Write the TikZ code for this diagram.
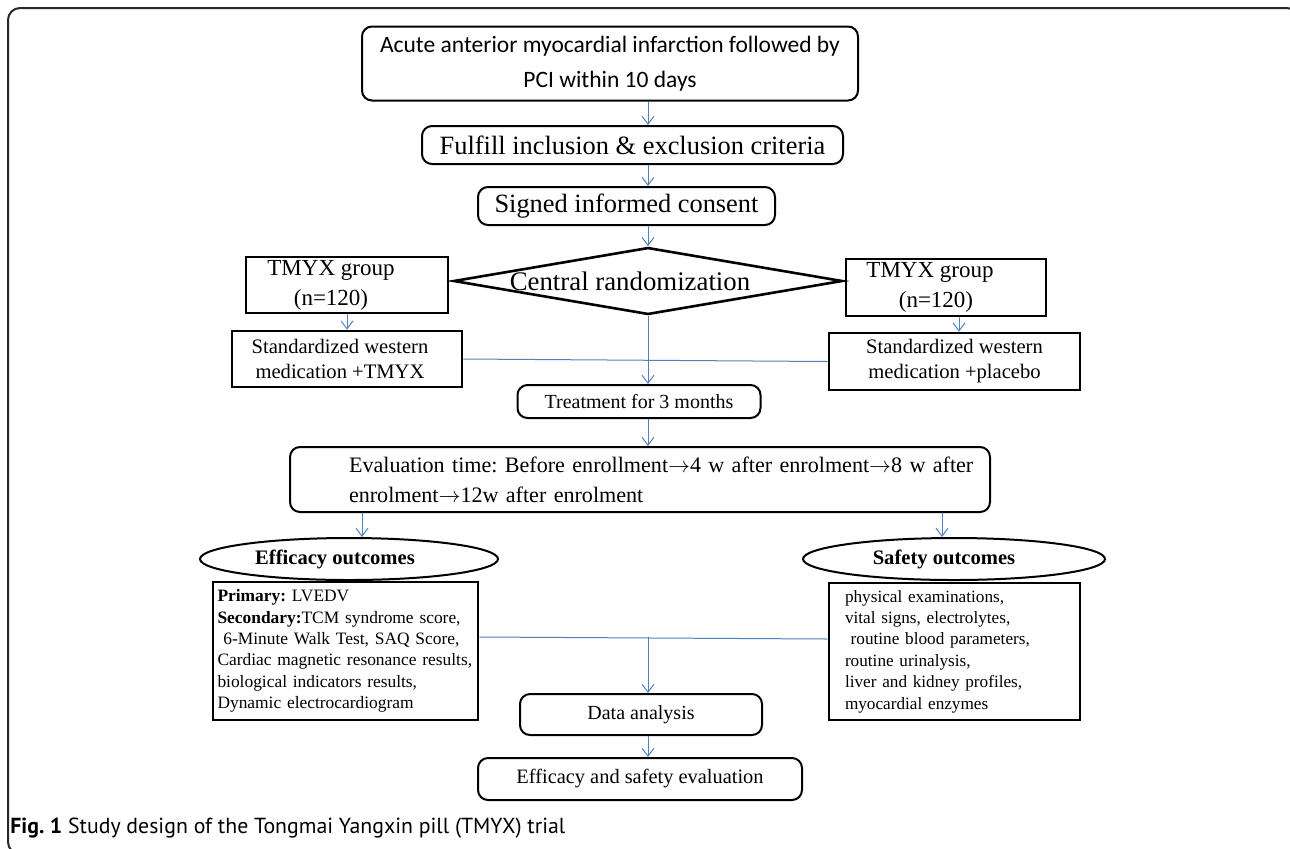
\documentclass[tikz,border=0pt]{standalone}
\usepackage{fontspec}
\setmainfont{Liberation Serif}
\newfontfamily\calfont{Carlito}
\newfontfamily\capfont{PT Sans}
\usetikzlibrary{shapes.geometric,arrows.meta,calc}
\frenchspacing

\definecolor{flowblue}{RGB}{79,129,189}
\definecolor{framegray}{RGB}{40,40,40}

\tikzset{
  roundbox/.style={draw, rounded corners=5pt, line width=1pt, inner sep=0pt},
  thickbox/.style={draw, line width=1.3pt, inner sep=0pt},
  flow/.style={draw=flowblue, line width=0.5pt},
  flowarrow/.style={flow, -{Straight Barb[length=4pt,width=6pt]}},
}

\begin{document}
\begin{tikzpicture}[x=0.5pt,y=-0.5pt]
    % Frame
    \useasboundingbox (0,0) rectangle (1290,848);
    \draw[framegray, line width=1pt, rounded corners=6pt] (8,8) rectangle (1299,854);
    % Screening
    \node[roundbox, minimum width=248pt, minimum height=37pt, align=center, font=\calfont\fontsize{11.75}{17.5}\selectfont] (acute) at (610,63.5) {Acute anterior myocardial infarction followed by\\PCI within 10 days};
    \node[roundbox, minimum width=210.5pt, minimum height=19pt, font=\fontsize{13.2}{15}\selectfont] (fulfill) at (632.5,145) {Fulfill inclusion \& exclusion criteria};
    \node[roundbox, minimum width=148.5pt, minimum height=19pt, font=\fontsize{13.2}{15}\selectfont] (signed) at (626.5,206) {Signed informed consent};
    \node[draw, diamond, aspect=5.8, line width=1.3pt, inner sep=0pt, minimum width=194.5pt, minimum height=33.5pt, font=\fontsize{13.4}{15}\selectfont] (rand) at (648,281) {\hspace*{-18pt}Central randomization};
    % Groups
    \node[thickbox, minimum width=101pt, minimum height=28pt, align=center, font=\fontsize{11.5}{15}\selectfont] (grpA) at (347,285) {\hspace*{-16pt}TMYX group\\\hspace*{-16pt}(n=120)};
    \node[thickbox, minimum width=100pt, minimum height=28.5pt, align=center, font=\fontsize{11.5}{15}\selectfont] (grpB) at (946,287.5) {\hspace*{-16pt}TMYX group\\\hspace*{-10pt}(n=120)};
    \node[thickbox, minimum width=115pt, minimum height=28pt, align=center, font=\fontsize{10.3}{12.5}\selectfont] (medA) at (347,359) {\hspace*{-7pt}Standardized western\\\hspace*{-7pt}medication +TMYX};
    \node[thickbox, minimum width=125.5pt, minimum height=28.5pt, align=center, font=\fontsize{10.3}{12.5}\selectfont] (medB) at (954.5,361.5) {Standardized western\\medication +placebo};
    \node[roundbox, minimum width=121.5pt, minimum height=16.5pt, font=\fontsize{10}{12}\selectfont] (treat) at (639,401.5) {Treatment for 3 months};
    % Follow-up
    \node[roundbox, minimum width=350pt, minimum height=32.5pt, text width=350pt, inner xsep=0pt, align=left, font=\fontsize{11.05}{15}\selectfont] (eval) at (640,479.5) {\mbox{\hspace*{29.5pt}Evaluation time: Before enrollment$\rightarrow$4 w after enrolment$\rightarrow$8 w after}\\\mbox{\hspace*{29.5pt}enrolment$\rightarrow$12w after enrolment}};
    \node[draw, ellipse, line width=1pt, inner sep=0pt, minimum width=149pt, minimum height=21pt, font=\bfseries\fontsize{10.3}{12}\selectfont] (effEll) at (349,559) {\hspace*{-14pt}Efficacy outcomes};
    \node[draw, ellipse, line width=1pt, inner sep=0pt, minimum width=151pt, minimum height=21pt, font=\bfseries\fontsize{10.3}{12}\selectfont] (safEll) at (954,559) {\hspace*{-10pt}Safety outcomes};
    \node[thickbox, minimum width=132.5pt, minimum height=69pt, text width=128pt, inner xsep=2.25pt, align=left, font=\fontsize{8.7}{10.7}\selectfont] (effBox) at (345.5,651) {\textbf{Primary:} LVEDV\\\textbf{Secondary:}TCM syndrome score,\\\ 6-Minute Walk Test, SAQ Score,\\Cardiac magnetic resonance results,\\biological indicators results,\\Dynamic electrocardiogram};
    \node[thickbox, minimum width=125.5pt, minimum height=68.5pt, text width=109.5pt, inner xsep=8pt, align=left, font=\fontsize{8.6}{10.7}\selectfont] (safBox) at (954.5,651.5) {physical examinations,\\vital signs, electrolytes,\\\ routine blood parameters,\\routine urinalysis,\\liver and kidney profiles,\\myocardial enzymes};
    \node[roundbox, minimum width=121pt, minimum height=20.5pt, font=\fontsize{10}{12}\selectfont] (data) at (641,714.5) {Data analysis};
    \node[roundbox, minimum width=162pt, minimum height=21pt, font=\fontsize{10.2}{12}\selectfont] (final) at (640,779) {Efficacy and safety evaluation};
    % Caption
    \node[anchor=west, inner sep=0pt, font=\capfont\fontsize{10.9}{13}\selectfont] (caption) at (10,828) {\textbf{Fig. 1} Study design of the Tongmai Yangxin pill (TMYX) trial};
    % Connectors
    \draw[flowarrow] (acute.south -| rand) -- (fulfill.north -| rand);
    \draw[flowarrow] (fulfill.south -| rand) -- (signed.north -| rand);
    \draw[flowarrow] (signed.south -| rand) -- (rand.north);
    \draw[flowarrow] (grpA.south) -- (medA.north -| grpA);
    \draw[flowarrow] ([xshift=6.5pt]grpB.south) -- ([xshift=6.5pt]grpB.south |- medB.north);
    \draw[flow] (medA.east) -- (medB.west);
    \draw[flowarrow] (rand.south) -- (treat.north -| rand);
    \draw[flowarrow] (treat.south -| rand) -- (eval.north -| rand);
    \draw[flowarrow] ([xshift=6.5pt]effEll.north |- eval.south) -- ([xshift=6.5pt]effEll.north);
    \draw[flowarrow] ([xshift=-6pt]safEll.north |- eval.south) -- ([xshift=-6pt]safEll.north);
    \coordinate (effOut) at ($(effBox.east)+(0,-14)$);
    \coordinate (safIn) at ($(safBox.west)+(0,-12.5)$);
    \draw[flow] (effOut) -- (safIn);
    \draw[flowarrow] (effOut -| rand) -- (data.north -| rand);
    \draw[flowarrow] (data.south -| rand) -- (final.north -| rand);
\end{tikzpicture}
\end{document}
